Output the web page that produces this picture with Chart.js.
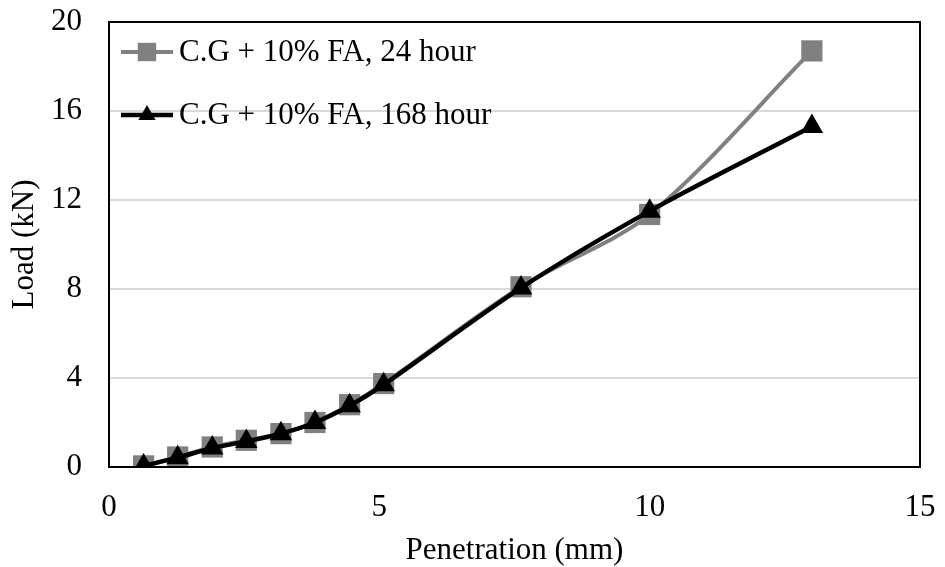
<!DOCTYPE html>
<html>
<head>
<meta charset="utf-8">
<script src="https://cdn.jsdelivr.net/npm/chart.js@4.4.0/dist/chart.umd.min.js"></script>
<style>
  html, body { margin: 0; padding: 0; background: #fff; }
  #wrap { width: 945px; height: 567px; }
</style>
</head>
<body>
<div id="wrap"><canvas id="cbrChart" width="945" height="567"></canvas></div>
<script>
// Penetration (mm) readings
const penetration = [0.64, 1.27, 1.91, 2.54, 3.18, 3.81, 4.45, 5.08, 7.62, 10.0, 13.0];

// Load (kN) for each curing time
const load24h = [0.05, 0.45, 0.9, 1.2, 1.5, 2.0, 2.8, 3.75, 8.1, 11.35, 18.7];
const load168h = [0.05, 0.42, 0.85, 1.15, 1.5, 2.0, 2.75, 3.7, 8.05, 11.5, 15.3];

const seriesNames = ['C.G + 10% FA, 24 hour', 'C.G + 10% FA, 168 hour'];
const xTicks = [0, 5, 10, 15];
const yTicks = [0, 4, 8, 12, 16, 20];

const FONT = '"Liberation Serif", "Times New Roman", serif';
const FS = 31;

function toPoints(xs, ys) {
    return xs.map((x, i) => ({ x: x, y: ys[i] }));
}

// Box around the plot area and the in-plot legend
const framePlugin = {
    id: 'frame',
    afterDatasetsDraw(chart) {
        const { ctx, chartArea } = chart;
        ctx.save();
        ctx.strokeStyle = '#000';
        ctx.lineWidth = 2;
        ctx.strokeRect(chartArea.left, chartArea.top, chartArea.right - chartArea.left, chartArea.bottom - chartArea.top);

        // legend
        const rows = [
            { y: chartArea.top + 30, ds: chart.data.datasets[0], r: 13 },
            { y: chartArea.top + 93, ds: chart.data.datasets[1], r: 10 }
        ];
        rows.forEach(r => {
            const x0 = chartArea.left + 12, x1 = chartArea.left + 64;
            ctx.strokeStyle = r.ds.borderColor;
            ctx.lineWidth = r.ds.borderWidth;
            ctx.beginPath();
            ctx.moveTo(x0, r.y);
            ctx.lineTo(x1, r.y);
            ctx.stroke();
            ctx.fillStyle = r.ds.pointBackgroundColor;
            ctx.strokeStyle = r.ds.pointBackgroundColor;
            Chart.helpers.drawPoint(ctx, {
                pointStyle: r.ds.pointStyle,
                radius: r.r,
                borderWidth: 0,
                rotation: 0
            }, (x0 + x1) / 2, r.y);
            ctx.fillStyle = '#000';
            ctx.font = FS + 'px ' + FONT;
            ctx.textBaseline = 'middle';
            ctx.textAlign = 'left';
            ctx.fillText(r.ds.label, x1 + 6, r.y + 1);
        });
        ctx.restore();
    }
};

const ctx = document.getElementById('cbrChart').getContext('2d');
new Chart(ctx, {
    type: 'scatter',
    data: {
        datasets: [
            {
                label: seriesNames[0],
                data: toPoints(penetration, load24h),
                showLine: true,
                order: 1,
                borderColor: '#808080',
                backgroundColor: '#808080',
                pointBackgroundColor: '#808080',
                pointBorderWidth: 0,
                borderWidth: 4,
                pointStyle: 'rect',
                pointRadius: 15,
                tension: 0.3
            },
            {
                label: seriesNames[1],
                data: toPoints(penetration, load168h),
                showLine: true,
                order: 0,
                borderColor: '#000',
                backgroundColor: '#000',
                pointBackgroundColor: '#000',
                pointBorderWidth: 0,
                borderWidth: 4.5,
                pointStyle: 'triangle',
                pointRadius: 13,
                tension: 0.3
            }
        ]
    },
    options: {
        responsive: false,
        animation: false,
        devicePixelRatio: 1,
        layout: { padding: { left: 0, top: 22, right: 25, bottom: 0 } },
        plugins: {
            legend: { display: false },
            tooltip: { enabled: false }
        },
        scales: {
            x: {
                type: 'linear',
                min: 0,
                max: 15,
                afterBuildTicks: axis => { axis.ticks = xTicks.map(v => ({ value: v })); },
                afterFit: axis => { axis.height = 100; axis.paddingLeft = 0; axis.paddingRight = 0; },
                grid: { display: false, drawTicks: false },
                border: { display: false },
                ticks: { color: '#000', font: { family: FONT, size: FS }, padding: 22, maxRotation: 0 },
                title: { display: true, text: 'Penetration (mm)', color: '#000', font: { family: FONT, size: FS }, padding: { top: 0, bottom: -2 } }
            },
            y: {
                min: 0,
                max: 20,
                afterBuildTicks: axis => { axis.ticks = yTicks.map(v => ({ value: v })); },
                afterFit: axis => { axis.width = 109; axis.paddingTop = 0; axis.paddingBottom = 0; },
                grid: { color: '#d9d9d9', lineWidth: 2, drawTicks: false },
                border: { display: false },
                ticks: { color: '#000', font: { family: FONT, size: FS }, padding: 27 },
                title: { display: true, text: 'Load (kN)', color: '#000', font: { family: FONT, size: FS }, padding: { top: 6, bottom: 0 } }
            }
        }
    },
    plugins: [framePlugin]
});
</script>
</body>
</html>
